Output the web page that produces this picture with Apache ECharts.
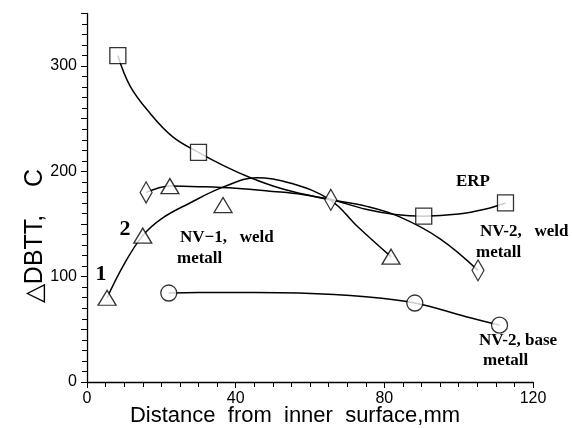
<!DOCTYPE html>
<html><head><meta charset="utf-8">
<script src="https://cdn.jsdelivr.net/npm/echarts@6/dist/echarts.min.js"></script>
<style>html,body{margin:0;padding:0;background:#fff}#c{width:572px;height:428px}</style>
</head><body><div id="c"></div>
<script>
// ---- data ----
const xTickLabels = [0, 40, 80, 120];
const yTickLabels = [0, 100, 200, 300];

const erpMarkers = [[8.3,310],[30,218],[90.6,157.5],[112.6,170]];
const erpCurve = [[8.3,310],[11.6,281],[17,255],[23,233],[30,218],[37,205],[44,194],[52,184],[60,177],[66,173],[75,164],[83,159],[90.6,157.5],[100,159.5],[107,164],[112.6,170]];

const triMarkers = [[5.4,80],[15,139],[22.3,186],[36.6,168],[81.8,119]];
const triCurve = [[5.4,80],[10,112],[15,139],[20,155],[27.7,170],[36.6,185],[45.7,194],[54.6,189],[65.4,173],[73,147],[81.8,119]];

const diaMarkers = [[15.9,180],[65.6,173],[105.2,106]];
const diaCurve = [[15.9,180],[19,184],[22.3,186],[30,185.5],[40,184],[50,181],[58,178],[65.6,173],[75,167],[84,157],[95,136],[105.2,106]];

const cirMarkers = [[22,84.5],[88.2,75],[111,54]];
const cirCurve = [[22,84.5],[30,85],[45,85],[57,84.5],[75,81],[88.2,75],[102,62],[111,54]];

const chart = echarts.init(document.getElementById('c'), null, {renderer:'canvas'});

function curve(data){
  return {type:'line', data, smooth:0.4, symbol:'none', z:2,
    lineStyle:{color:'#000', width:1.5}};
}
function marks(data, symbol, size){
  return {type:'scatter', data, symbol, symbolSize:size, z:5,
    itemStyle:{color:'#fff', borderColor:'#000', borderWidth:1.3}};
}
const serifBold = 'bold 17px "Liberation Serif", "Times New Roman", serif';

chart.setOption({
  animation:false,
  backgroundColor:'#fff',
  grid:{left:87, right:39, top:13.4, bottom:46, containLabel:false},
  xAxis:{type:'value', min:0, max:120, interval:40,
    axisLine:{lineStyle:{color:'#000', width:1.3}},
    axisTick:{show:true, length:6, lineStyle:{color:'#000'}},
    minorTick:{show:true, splitNumber:8, length:5, lineStyle:{color:'#000'}},
    splitLine:{show:false},
    axisLabel:{color:'#000', fontSize:16, fontFamily:'"Liberation Sans", Arial, sans-serif', margin:9,
      formatter:v => xTickLabels.includes(v) ? String(v) : ''}
  },
  yAxis:{type:'value', min:0, max:350, interval:50,
    axisLine:{show:true, lineStyle:{color:'#000', width:1.3}},
    axisTick:{show:true, length:6, lineStyle:{color:'#000'}},
    minorTick:{show:true, splitNumber:5, length:5, lineStyle:{color:'#000'}},
    splitLine:{show:false},
    axisLabel:{color:'#000', fontSize:16, fontFamily:'"Liberation Sans", Arial, sans-serif', margin:10,
      formatter:v => yTickLabels.includes(v) ? String(v) : ''}
  },
  series:[
    curve(erpCurve), curve(triCurve), curve(diaCurve), curve(cirCurve),
    marks(erpMarkers,'rect',16),
    marks(triMarkers,'triangle',[18,15]),
    marks(diaMarkers,'diamond',[12,21]),
    marks(cirMarkers,'circle',16)
  ],
  graphic:[
    {type:'text', x:35, y:236, rotation:Math.PI/2, style:{text:'\u25B3DBTT,    C', font:'25px "Liberation Sans", Arial, sans-serif', fill:'#000', align:'center', verticalAlign:'middle'}},
    {type:'text', x:295, y:416, style:{text:'Distance  from  inner  surface,mm', font:'22px "Liberation Sans", Arial, sans-serif', fill:'#000', align:'center', verticalAlign:'middle'}},
    {type:'text', x:456, y:182, style:{text:'ERP', font:serifBold, fill:'#000', align:'left', verticalAlign:'middle'}},
    {type:'text', x:480, y:232, style:{text:'NV-2,   weld', font:serifBold, fill:'#000', align:'left', verticalAlign:'middle'}},
    {type:'text', x:476, y:253, style:{text:'metall', font:serifBold, fill:'#000', align:'left', verticalAlign:'middle'}},
    {type:'text', x:180, y:238, style:{text:'NV\u22121,   weld', font:serifBold, fill:'#000', align:'left', verticalAlign:'middle'}},
    {type:'text', x:177, y:259, style:{text:'metall', font:serifBold, fill:'#000', align:'left', verticalAlign:'middle'}},
    {type:'text', x:479, y:341, style:{text:'NV-2, base', font:serifBold, fill:'#000', align:'left', verticalAlign:'middle'}},
    {type:'text', x:483, y:361, style:{text:'metall', font:serifBold, fill:'#000', align:'left', verticalAlign:'middle'}},
    {type:'text', x:101, y:274, style:{text:'1', font:'bold 22px "Liberation Serif", serif', fill:'#000', align:'center', verticalAlign:'middle'}},
    {type:'text', x:125, y:229, style:{text:'2', font:'bold 22px "Liberation Serif", serif', fill:'#000', align:'center', verticalAlign:'middle'}}
  ]
});
</script>
</body></html>
